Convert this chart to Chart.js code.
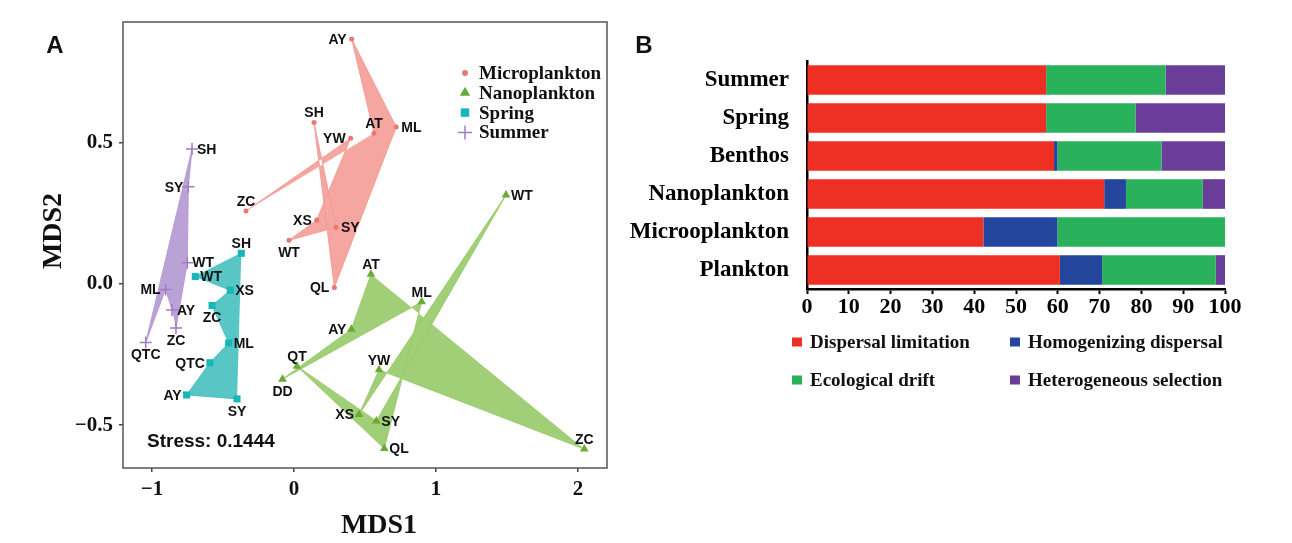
<!DOCTYPE html>
<html>
<head>
<meta charset="utf-8">
<script src="https://cdn.jsdelivr.net/npm/chart.js@4.4.1/dist/chart.umd.min.js"></script>
<style>
  body { margin: 0; background: #fff; }
  #wrap { position: relative; width: 1292px; height: 543px; }
  #nmds { position: absolute; left: 0; top: 0; }
  #bars { position: absolute; left: 620px; top: 0; }
</style>
</head>
<body>
<div id="wrap">
  <canvas id="nmds" width="620" height="543"></canvas>
  <canvas id="bars" width="672" height="543"></canvas>
</div>
<script>
// ---- panel A: NMDS site scores (polygons follow site order) ----
const microSites = ['AT', 'AY', 'ML', 'QL', 'SH', 'SY', 'WT', 'XS', 'YW', 'ZC'];
const microX = [0.563, 0.406, 0.720, 0.284, 0.141, 0.296, -0.035, 0.160, 0.399, -0.338];
const microY = [0.535, 0.869, 0.557, -0.012, 0.573, 0.201, 0.155, 0.227, 0.517, 0.259];

const nanoSites = ['AT', 'AY', 'DD', 'ML', 'QL', 'QT', 'SY', 'WT', 'XS', 'YW', 'ZC'];
const nanoX = [0.542, 0.404, -0.081, 0.899, 0.636, 0.021, 0.580, 1.493, 0.458, 0.599, 2.044];
const nanoY = [0.035, -0.160, -0.337, -0.063, -0.583, -0.291, -0.485, 0.316, -0.462, -0.304, -0.585];

const springSites = ['SH', 'WT', 'XS', 'ZC', 'ML', 'QTC', 'AY', 'SY'];
const springX = [-0.371, -0.695, -0.449, -0.577, -0.460, -0.592, -0.756, -0.401];
const springY = [0.109, 0.027, -0.022, -0.076, -0.209, -0.279, -0.393, -0.407];

const summerSites = ['AY', 'ML', 'QTC', 'SH', 'SY', 'WT', 'ZC'];
const summerX = [-0.859, -0.904, -1.044, -0.718, -0.744, -0.751, -0.831];
const summerY = [-0.092, -0.019, -0.207, 0.479, 0.345, 0.076, -0.156];

const groupNames = ['Microplankton', 'Nanoplankton', 'Spring', 'Summer'];
const xTicks = [-1, 0, 1, 2];
const yTicks = [-0.5, 0, 0.5];
const stressText = 'Stress: 0.1444';

// label placement (l = left, r = right, t = above, b = below)
const microSides = ['t', 'l', 'r', 'l', 't', 'r', 'b', 'l', 'l', 't'];
const nanoSides = ['t', 'l', 'b', 't', 'r', 't', 'r', 'r', 'l', 't', 't'];
const springSides = ['t', 'r', 'r', 'b', 'r', 'l', 'l', 'b'];
const summerSides = ['r', 'l', 'b', 'r', 'l', 'r', 'b'];

// ---- panel B: assembly processes (%) ----
const categories = ['Summer', 'Spring', 'Benthos', 'Nanoplankton', 'Microoplankton', 'Plankton'];
const dispersalLimitation = [57.2, 57.2, 59.1, 71.1, 42.2, 60.5];
const homogenizingDispersal = [0, 0, 0.8, 5.2, 17.7, 10.1];
const ecologicalDrift = [28.6, 21.4, 24.9, 18.4, 40.1, 27.2];
const heterogeneousSelection = [14.2, 21.4, 15.2, 5.3, 0, 2.2];
const processNames = ['Dispersal limitation', 'Homogenizing dispersal', 'Ecological drift', 'Heterogeneous selection'];

const SERIF = '"Liberation Serif", "Times New Roman", serif';
const SANS = '"Liberation Sans", Arial, sans-serif';

function toPoints(xs, ys) {
    return xs.map((x, i) => ({ x: x, y: ys[i] }));
}

function groupDataset(label, xs, ys, sites, sides, pointColor, fillColor, style, radius) {
    return {
        label: label,
        data: toPoints(xs, ys),
        sites: sites,
        sides: sides,
        showLine: true,
        fill: 'shape',
        tension: 0,
        backgroundColor: fillColor,
        borderColor: fillColor,
        borderWidth: 1,
        pointStyle: style,
        pointRadius: radius,
        pointBackgroundColor: pointColor,
        pointBorderColor: pointColor,
        pointBorderWidth: style === 'cross' ? 1.5 : 0
    };
}

const siteLabels = {
    id: 'siteLabels',
    afterDatasetsDraw(chart) {
        const ctx = chart.ctx;
        ctx.save();
        ctx.font = 'bold 14px ' + SANS;
        ctx.fillStyle = '#111';
        chart.data.datasets.forEach((ds, i) => {
            chart.getDatasetMeta(i).data.forEach((pt, j) => {
                let x = pt.x, y = pt.y;
                const side = ds.sides[j];
                if (side === 'l') { ctx.textAlign = 'right'; ctx.textBaseline = 'middle'; x -= 5; }
                else if (side === 'r') { ctx.textAlign = 'left'; ctx.textBaseline = 'middle'; x += 5; }
                else if (side === 't') { ctx.textAlign = 'center'; ctx.textBaseline = 'bottom'; y -= 3; }
                else { ctx.textAlign = 'center'; ctx.textBaseline = 'top'; y += 5; }
                ctx.fillText(ds.sites[j], x, y + 1);
            });
        });
        ctx.restore();
    },
    afterDraw(chart) {
        const ctx = chart.ctx;
        const a = chart.chartArea;
        ctx.save();
        // panel frame
        ctx.strokeStyle = '#555';
        ctx.lineWidth = 1.5;
        ctx.strokeRect(a.left, a.top, a.right - a.left, a.bottom - a.top);

        // legend inside the panel
        ctx.font = 'bold 19px ' + SERIF;
        ctx.textAlign = 'left';
        ctx.textBaseline = 'middle';
        const legendSizes = [3, 6, 6, 7];
        chart.data.datasets.forEach((ds, i) => {
            const y = 73 + i * 19.8;
            ctx.fillStyle = ds.pointBackgroundColor;
            ctx.strokeStyle = ds.pointBorderColor;
            Chart.helpers.drawPoint(ctx, {
                pointStyle: ds.pointStyle, rotation: 0,
                radius: legendSizes[i], borderWidth: ds.pointStyle === 'cross' ? 1.5 : 0
            }, 465, y);
            ctx.fillStyle = '#111';
            ctx.fillText(ds.label, 479, y + 1);
        });

        // stress annotation
        ctx.font = 'bold 19px ' + SANS;
        ctx.fillText(stressText, chart.scales.x.getPixelForValue(-1.035), chart.scales.y.getPixelForValue(-0.56));

        // panel letter
        ctx.font = 'bold 24px ' + SANS;
        ctx.textAlign = 'center';
        ctx.fillText('A', 55, 46);
        ctx.restore();
    }
};

new Chart(document.getElementById('nmds'), {
    type: 'scatter',
    data: {
        datasets: [
            groupDataset(groupNames[0], microX, microY, microSites, microSides, '#EC7670', 'rgba(243,150,143,0.85)', 'circle', 2.5),
            groupDataset(groupNames[1], nanoX, nanoY, nanoSites, nanoSides, '#6CAA38', 'rgba(150,202,104,0.9)', 'triangle', 5),
            groupDataset(groupNames[2], springX, springY, springSites, springSides, '#17B6B9', 'rgba(70,192,190,0.9)', 'rect', 5),
            groupDataset(groupNames[3], summerX, summerY, summerSites, summerSides, '#A07CC5', 'rgba(178,152,210,0.9)', 'cross', 6)
        ]
    },
    options: {
        responsive: false,
        devicePixelRatio: 1,
        animation: false,
        events: [],
        layout: { padding: { left: 0, top: 22, right: 13, bottom: 0 } },
        plugins: { legend: { display: false }, tooltip: { enabled: false } },
        scales: {
            x: {
                type: 'linear',
                min: -1.204, max: 2.204,
                afterFit: s => { s.height = 75; },
                afterBuildTicks: s => { s.ticks = xTicks.map(v => ({ value: v })); },
                border: { display: false },
                grid: { display: true, drawOnChartArea: false, drawTicks: true, tickLength: 4, tickColor: '#444', lineWidth: 1.5 },
                ticks: {
                    padding: 5, color: '#111',
                    font: { family: SERIF, size: 21, weight: 'bold' },
                    callback: v => String(v).replace('-', '\u2212')
                },
                title: {
                    display: true, text: '    MDS1', color: '#111',
                    font: { family: SERIF, size: 28, weight: 'bold' },
                    padding: { top: 15, bottom: 0 }
                }
            },
            y: {
                type: 'linear',
                min: -0.652, max: 0.929,
                afterFit: s => { s.width = 123; },
                afterBuildTicks: s => { s.ticks = yTicks.map(v => ({ value: v })); },
                border: { display: false },
                grid: { display: true, drawOnChartArea: false, drawTicks: true, tickLength: 4, tickColor: '#444', lineWidth: 1.5 },
                ticks: {
                    padding: 6, color: '#111',
                    font: { family: SERIF, size: 21, weight: 'bold' },
                    callback: v => v.toFixed(1).replace('-', '\u2212')
                },
                title: {
                    display: true, text: '    MDS2', color: '#111',
                    font: { family: SERIF, size: 28, weight: 'bold' },
                    padding: { top: 37, bottom: 0 }
                }
            }
        }
    },
    plugins: [siteLabels]
});

// ---- panel B ----
const processColors = ['#EE3024', '#23469C', '#2AB15B', '#6A3E98'];

const barLegend = {
    id: 'barLegend',
    afterDraw(chart) {
        const ctx = chart.ctx;
        ctx.save();
        ctx.font = 'bold 19px ' + SERIF;
        ctx.textAlign = 'left';
        ctx.textBaseline = 'middle';
        const cols = [172, 390];
        const rows = [342, 380];
        chart.data.datasets.forEach((ds, i) => {
            const cx = cols[i % 2];
            const cy = rows[Math.floor(i / 2)];
            ctx.fillStyle = ds.backgroundColor;
            ctx.fillRect(cx, cy - 4.5, 10, 9);
            ctx.fillStyle = '#111';
            ctx.fillText(ds.label, cx + 18, cy + 1);
        });
        ctx.font = 'bold 24px ' + SANS;
        ctx.textAlign = 'center';
        ctx.fillText('B', 24, 46);
        ctx.restore();
    }
};

const processSeries = [dispersalLimitation, homogenizingDispersal, ecologicalDrift, heterogeneousSelection];

new Chart(document.getElementById('bars'), {
    type: 'bar',
    data: {
        labels: categories,
        datasets: processSeries.map((vals, i) => ({
            label: processNames[i],
            data: vals,
            backgroundColor: processColors[i],
            borderWidth: 0,
            barPercentage: 0.78,
            categoryPercentage: 1
        }))
    },
    options: {
        indexAxis: 'y',
        responsive: false,
        devicePixelRatio: 1,
        animation: false,
        events: [],
        layout: { padding: { left: 0, top: 61, right: 67, bottom: 214 } },
        plugins: { legend: { display: false }, tooltip: { enabled: false } },
        scales: {
            x: {
                stacked: true,
                min: 0, max: 100,
                afterFit: s => { s.height = 40; },
                border: { display: true, color: '#000', width: 2.5 },
                grid: { display: true, drawOnChartArea: false, drawTicks: true, tickLength: 5, tickColor: '#000', tickWidth: 2 },
                ticks: {
                    stepSize: 10, padding: 0, color: '#000', maxRotation: 0, autoSkip: false,
                    font: { family: SERIF, size: 22, weight: 'bold' }
                }
            },
            y: {
                stacked: true,
                afterFit: s => { s.width = 187; },
                border: { display: true, color: '#000', width: 2.5 },
                grid: { display: false },
                ticks: {
                    padding: 10, color: '#000',
                    font: { family: SERIF, size: 23, weight: 'bold' }
                }
            }
        }
    },
    plugins: [barLegend]
});
</script>
</body>
</html>
